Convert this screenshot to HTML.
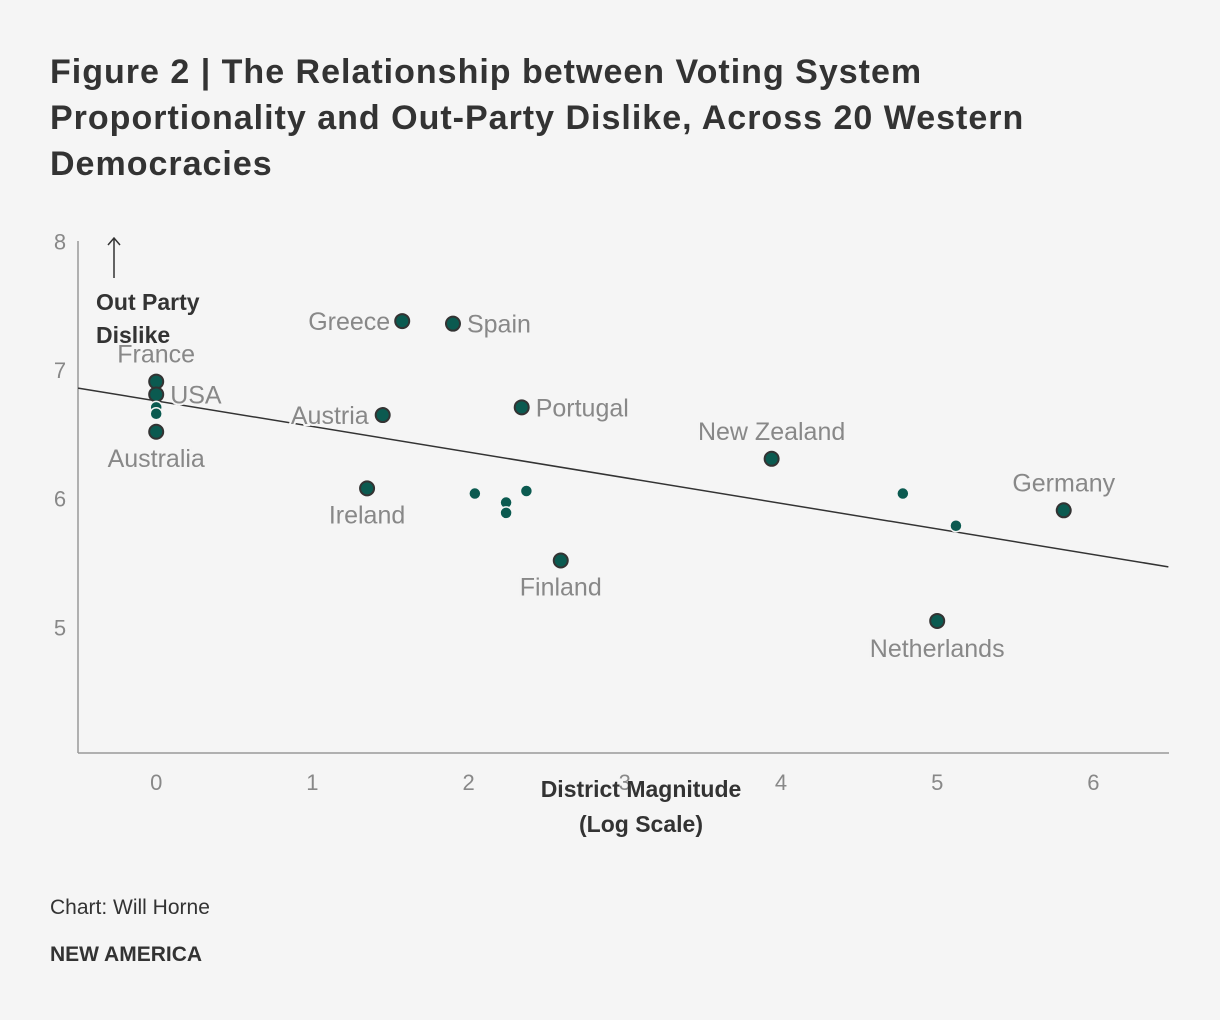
<!DOCTYPE html>
<html><head><meta charset="utf-8"><style>
body{margin:0;background:#f5f5f5;font-family:"Liberation Sans",sans-serif;}
#wrap{position:relative;width:1220px;height:1020px;background:#f5f5f5;}
h1{position:absolute;left:50px;top:49px;margin:0;font-size:34px;letter-spacing:1px;line-height:46px;color:#333;font-weight:bold;width:1080px;}
.src{position:absolute;left:50px;font-size:21px;color:#333;}
</style></head><body>
<div id="wrap">
<h1>Figure 2 | The Relationship between Voting System Proportionality and Out-Party Dislike, Across 20 Western Democracies</h1>
<svg id="chart" width="1220" height="1020" style="position:absolute;left:0;top:0"></svg>
<div class="src" style="top:896px">Chart: Will Horne</div>
<div class="src" style="top:943px;font-weight:bold">NEW AMERICA</div>
</div>
<script>
const names=["France","USA","","","Australia","Austria","Greece","Spain","Portugal","Ireland","","","","","Finland","New Zealand","","","Netherlands","Germany"];
const xVals=[0,0,0,0,0,1.45,1.575,1.9,2.34,1.35,2.04,2.24,2.24,2.37,2.59,3.94,4.78,5.12,5.0,5.81];
const yVals=[6.91,6.81,6.71,6.66,6.52,6.65,7.38,7.36,6.71,6.08,6.04,5.97,5.89,6.06,5.52,6.31,6.04,5.79,5.05,5.91];
const xTicks=[0,1,2,3,4,5,6];
const yTicks=[5,6,7,8];
const trend=[6.76,-0.199];
const labelPos={France:[0,-28],USA:[14,0],Australia:[0,26],Austria:[-14,0,'end'],Greece:[-12,0,'end'],Spain:[14,0],Portugal:[14,0],Ireland:[0,26],Finland:[0,26],"New Zealand":[0,-28],Netherlands:[0,27],Germany:[0,-28]};
const NS="http://www.w3.org/2000/svg";
const svg=document.getElementById('chart');
const X=v=>156.2+v*156.2, Y=v=>370-(v-7)*128.7;
const x0=-0.5,x1=6.48;
function mk(t,a,p){const e=document.createElementNS(NS,t);for(const k in a)e.setAttribute(k,a[k]);(p||svg).appendChild(e);return e;}
let ax=mk('line',{x1:78,y1:241,x2:78,y2:753,stroke:'#999','stroke-width':1.5});


let bx=mk('line',{x1:78,y1:753,x2:1169,y2:753,stroke:'#999','stroke-width':1.5});


xTicks.forEach(t=>{const e=mk('text',{x:X(t),y:790,'text-anchor':'middle','font-size':22,fill:'#888'});e.textContent=t;

});
yTicks.forEach(t=>{const e=mk('text',{x:60,y:Y(t)+8,'text-anchor':'middle','font-size':22,fill:'#888'});e.textContent=t;

});
let tl=mk('line',{x1:X(x0),y1:Y(trend[0]+trend[1]*x0),x2:X(x1),y2:Y(trend[0]+trend[1]*x1),stroke:'#333','stroke-width':1.5});


xVals.forEach((v,i)=>{const lab=names[i]!=='';
const c=mk('circle',{cx:X(v),cy:Y(yVals[i]),r:lab?7:6,fill:'#0b5a50',stroke:lab?'#333':'#f5f5f5','stroke-width':lab?2:1.5});


if(lab){const p=labelPos[names[i]];const e=mk('text',{x:X(v)+p[0],y:Y(yVals[i])+p[1]+9,'text-anchor':p[2]||(p[0]>0?'start':'middle'),'font-size':25,fill:'#888',stroke:'#f5f5f5','stroke-width':4,'paint-order':'stroke'});e.textContent=names[i];

}});
let ar=mk('path',{d:'M114 278 V238 M108 245 L114 238 L120 245',stroke:'#333','stroke-width':1.5,fill:'none'});


[['Out Party',310],['Dislike',343]].forEach(d=>{const e=mk('text',{x:96,y:d[1],'font-size':23,'font-weight':'bold',fill:'#333'});e.textContent=d[0];

});
[['District Magnitude',797],['(Log Scale)',832]].forEach(d=>{const e=mk('text',{x:641,y:d[1],'text-anchor':'middle','font-size':23,'font-weight':'bold',fill:'#333'});e.textContent=d[0];

});
</script>
</body></html>
